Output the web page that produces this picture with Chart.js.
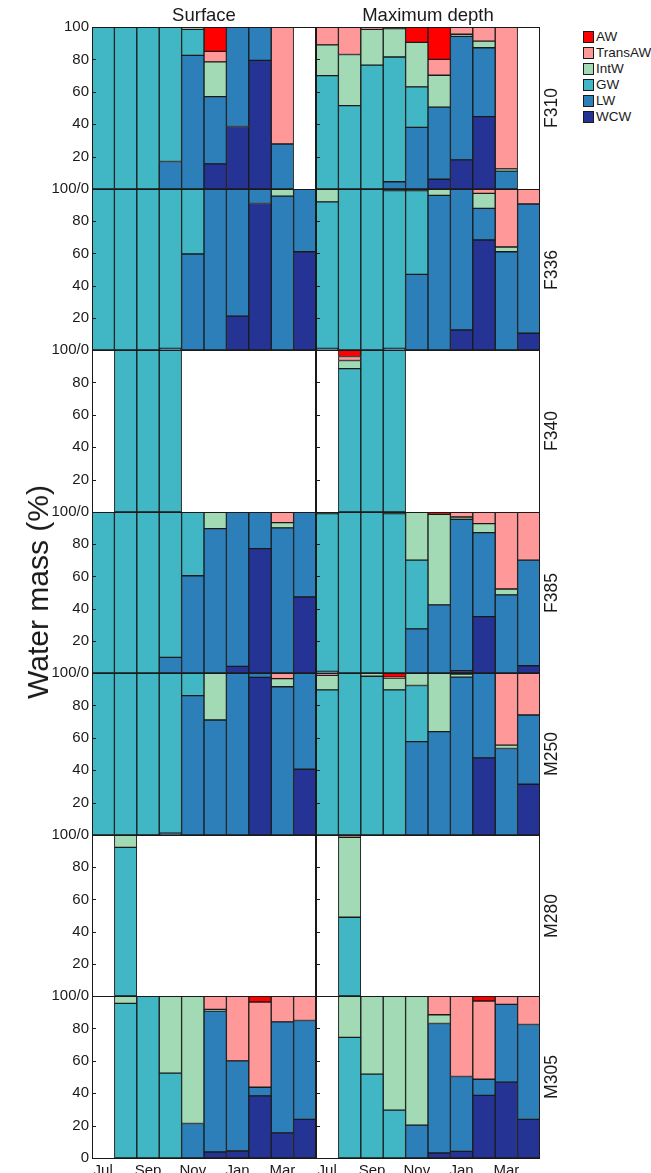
<!DOCTYPE html>
<html>
<head>
<meta charset="utf-8">
<script src="https://cdn.jsdelivr.net/npm/chart.js@4.4.0/dist/chart.umd.min.js"></script>
<style>
    body { margin: 0; background: #fff; font-family: "Liberation Sans", Arial, sans-serif; color: #1a1a1a; }
    #page { position: relative; width: 651px; height: 1173px; overflow: hidden; }
    #page canvas { position: absolute; }
    .title { position: absolute; top: 4px; font-size: 18.5px; transform: translateX(-50%); white-space: nowrap; }
    .rowlab { position: absolute; font-size: 17.5px; transform: translate(-50%, -50%) rotate(-90deg); white-space: nowrap; }
    .ytitle { position: absolute; left: 38px; top: 592px; font-size: 30px; transform: translate(-50%, -50%) rotate(-90deg); white-space: nowrap; }
    .leg { position: absolute; left: 583px; font-size: 13.5px; line-height: 11px; white-space: nowrap; }
    .leg i { display: inline-block; width: 9px; height: 10px; border: 1px solid #1a1a1a; vertical-align: top; margin-right: 2px; }
</style>
</head>
<body>
<div id="page"></div>
<script>
/* =========================
   DATA
========================= */

const months = ['Jul', 'Aug', 'Sep', 'Oct', 'Nov', 'Dec', 'Jan', 'Feb', 'Mar', 'Apr'];
const masses = ['WCW', 'LW', 'GW', 'IntW', 'TransAW', 'AW'];
const massColors = ['#253494', '#2c7fb8', '#41b6c4', '#a1dab4', '#ff9999', '#ff0000'];
const stations = ['F310', 'F336', 'F340', 'F385', 'M250', 'M280', 'M305'];
const columns = ['Surface', 'Maximum depth'];
const yTicks = [0, 20, 40, 60, 80, 100];

// rows in order WCW, LW, GW, IntW, TransAW, AW ; one value per month (0 = absent)
const F310_surface = [
    [0, 0, 0, 0, 0, 15.5, 38.6, 79.4, 0, 0],
    [0, 0, 0, 17, 82.5, 41.5, 61.4, 20.6, 27.8, 0],
    [100, 100, 100, 83, 16, 0, 0, 0, 0, 0],
    [0, 0, 0, 0, 1.5, 21.5, 0, 0, 0, 0],
    [0, 0, 0, 0, 0, 6.5, 0, 0, 72.2, 0],
    [0, 0, 0, 0, 0, 15, 0, 0, 0, 0]
];
const F310_max = [
    [0, 0, 0, 0, 0, 6, 18, 44.7, 0, 0],
    [0, 0, 0, 4.5, 38, 44.5, 76.3, 42.5, 11, 0],
    [70, 51.5, 76.5, 77, 25, 0, 0, 0, 0, 0],
    [19, 31.5, 22, 17.5, 27.5, 19.7, 1.2, 4.1, 1.4, 0],
    [11, 17, 1.5, 1, 0, 9.8, 4.5, 8.7, 87.6, 0],
    [0, 0, 0, 0, 9.5, 20, 0, 0, 0, 0]
];
const F336_surface = [
    [0, 0, 0, 0, 0, 0, 21, 91, 0, 61],
    [0, 0, 0, 1, 59.6, 100, 79, 9, 95.6, 39],
    [100, 100, 100, 99, 40.4, 0, 0, 0, 0, 0],
    [0, 0, 0, 0, 0, 0, 0, 0, 4.4, 0],
    [0, 0, 0, 0, 0, 0, 0, 0, 0, 0],
    [0, 0, 0, 0, 0, 0, 0, 0, 0, 0]
];
const F336_max = [
    [0, 0, 0, 0, 0, 0, 12.4, 68.3, 0, 10.4],
    [1, 0, 0, 1, 47, 96, 87.6, 19.7, 61, 80.3],
    [91, 100, 100, 98, 52, 0, 0, 0, 0, 0],
    [8, 0, 0, 1, 1, 4, 0, 9.3, 3, 0],
    [0, 0, 0, 0, 0, 0, 0, 2.7, 36, 9.3],
    [0, 0, 0, 0, 0, 0, 0, 0, 0, 0]
];
const F340_surface = [
    [0, 0, 0, 0, 0, 0, 0, 0, 0, 0],
    [0, 0, 0, 0, 0, 0, 0, 0, 0, 0],
    [0, 100, 100, 100, 0, 0, 0, 0, 0, 0],
    [0, 0, 0, 0, 0, 0, 0, 0, 0, 0],
    [0, 0, 0, 0, 0, 0, 0, 0, 0, 0],
    [0, 0, 0, 0, 0, 0, 0, 0, 0, 0]
];
const F340_max = [
    [0, 0, 0, 0, 0, 0, 0, 0, 0, 0],
    [0, 0, 0, 0, 0, 0, 0, 0, 0, 0],
    [0, 88.5, 100, 100, 0, 0, 0, 0, 0, 0],
    [0, 5, 0, 0, 0, 0, 0, 0, 0, 0],
    [0, 2.5, 0, 0, 0, 0, 0, 0, 0, 0],
    [0, 4, 0, 0, 0, 0, 0, 0, 0, 0]
];
const F385_surface = [
    [0, 0, 0, 0, 0, 0, 4.1, 77.3, 0, 47.2],
    [0, 0, 0, 9.7, 60.4, 89.7, 95.9, 22.7, 90.1, 52.8],
    [100, 100, 100, 90.3, 39.6, 0, 0, 0, 0, 0],
    [0, 0, 0, 0, 0, 10.3, 0, 0, 3.3, 0],
    [0, 0, 0, 0, 0, 0, 0, 0, 6.6, 0],
    [0, 0, 0, 0, 0, 0, 0, 0, 0, 0]
];
const F385_max = [
    [0, 0, 0, 0, 0, 0, 1.4, 35, 0, 4.5],
    [1, 0, 0, 0, 27.4, 42.3, 94.1, 52.2, 48.5, 65.6],
    [98, 100, 100, 99, 42.7, 0, 0, 0, 0, 0],
    [1, 0, 0, 1, 29.9, 56.2, 1.4, 5.6, 3.7, 0],
    [0, 0, 0, 0, 0, 0, 3.1, 7.2, 47.8, 29.9],
    [0, 0, 0, 0, 0, 1.5, 0, 0, 0, 0]
];
const M250_surface = [
    [0, 0, 0, 0, 0, 0, 0, 97.3, 0, 40.6],
    [0, 0, 0, 1.2, 86, 71, 100, 2.7, 91.5, 59.4],
    [100, 100, 100, 98.8, 14, 0, 0, 0, 0, 0],
    [0, 0, 0, 0, 0, 29, 0, 0, 5, 0],
    [0, 0, 0, 0, 0, 0, 0, 0, 3.5, 0],
    [0, 0, 0, 0, 0, 0, 0, 0, 0, 0]
];
const M250_max = [
    [0, 0, 0, 0, 0, 0, 0, 47.6, 0, 31.3],
    [0, 0, 0, 0, 57.6, 63.8, 97.5, 52.4, 53.4, 42.8],
    [89.6, 100, 98, 89.6, 34.7, 0, 0, 0, 0, 0],
    [8.9, 0, 2, 7.3, 7.7, 36.2, 1.9, 0, 2.1, 0],
    [1.5, 0, 0, 0.6, 0, 0, 0.6, 0, 44.5, 25.9],
    [0, 0, 0, 2.5, 0, 0, 0, 0, 0, 0]
];
const M280_surface = [
    [0, 0, 0, 0, 0, 0, 0, 0, 0, 0],
    [0, 0, 0, 0, 0, 0, 0, 0, 0, 0],
    [0, 92.3, 0, 0, 0, 0, 0, 0, 0, 0],
    [0, 7.7, 0, 0, 0, 0, 0, 0, 0, 0],
    [0, 0, 0, 0, 0, 0, 0, 0, 0, 0],
    [0, 0, 0, 0, 0, 0, 0, 0, 0, 0]
];
const M280_max = [
    [0, 0, 0, 0, 0, 0, 0, 0, 0, 0],
    [0, 0, 0, 0, 0, 0, 0, 0, 0, 0],
    [0, 48.9, 0, 0, 0, 0, 0, 0, 0, 0],
    [0, 49.7, 0, 0, 0, 0, 0, 0, 0, 0],
    [0, 1.4, 0, 0, 0, 0, 0, 0, 0, 0],
    [0, 0, 0, 0, 0, 0, 0, 0, 0, 0]
];
const M305_surface = [
    [0, 0, 0, 0, 0, 3.7, 4.3, 38.3, 15.5, 23.8],
    [0, 0, 0, 0, 21.3, 87, 55.7, 5.4, 68.5, 61.1],
    [0, 95.4, 100, 52.4, 0, 0, 0, 0, 0, 0],
    [0, 4.6, 0, 47.6, 78.7, 1, 0, 0, 0, 0],
    [0, 0, 0, 0, 0, 8.3, 40, 52.6, 16, 15.1],
    [0, 0, 0, 0, 0, 0, 0, 3.7, 0, 0]
];
const M305_max = [
    [0, 0, 0, 0, 0, 3.1, 4.1, 38.7, 46.8, 23.8],
    [0, 0, 0, 0, 20.3, 79.9, 46.2, 9.9, 48, 58.6],
    [0, 74.5, 51.8, 29.6, 0, 0, 0, 0, 0, 0],
    [0, 25.5, 48.2, 70.4, 79.7, 5.4, 0, 0, 0, 0],
    [0, 0, 0, 0, 0, 11.6, 49.7, 48.3, 5.2, 17.6],
    [0, 0, 0, 0, 0, 0, 0, 3.1, 0, 0]
];

const panelData = [
    [F310_surface, F310_max],
    [F336_surface, F336_max],
    [F340_surface, F340_max],
    [F385_surface, F385_max],
    [M250_surface, M250_max],
    [M280_surface, M280_max],
    [M305_surface, M305_max]
];

/* =========================
   LAYOUT
========================= */

const COL_X = [92, 316];
const PANEL_W = 224;
const TOP = 27;
const BOTTOM = 1158;
const INK = '#1a1a1a';

Chart.defaults.font.family = '"Liberation Sans", Arial, sans-serif';
Chart.defaults.color = INK;

const page = document.getElementById('page');

function rowTop(i) {
    return Math.round(TOP + i * (BOTTOM - TOP) / stations.length);
}

// frame round the plot area and small inward ticks on its left edge
const framePlugin = {
    id: 'frame',
    afterDraw(chart) {
        const { ctx, chartArea: a, scales } = chart;
        ctx.save();
        ctx.strokeStyle = INK;
        ctx.lineWidth = 1;
        ctx.strokeRect(a.left + 0.5, a.top + 0.5, a.right - a.left - 1, a.bottom - a.top);
        ctx.beginPath();
        yTicks.slice(1, -1).forEach(v => {
            const y = Math.round(scales.y.getPixelForValue(v)) + 0.5;
            ctx.moveTo(a.left, y);
            ctx.lineTo(a.left + 4, y);
        });
        ctx.stroke();
        ctx.restore();
    }
};

function createPanel(row, col) {

    const last = row === stations.length - 1;
    const showY = col === 0;
    const top = rowTop(row);
    const height = rowTop(row + 1) - top;

    const padL = showY ? 50 : 4;
    const padT = 12;
    const padR = 4;
    const padB = last ? 30 : 12;

    const canvas = document.createElement('canvas');
    canvas.width = PANEL_W + padL + padR;
    canvas.height = height + padT + padB;
    canvas.style.left = (COL_X[col] - padL) + 'px';
    canvas.style.top = (top - padT) + 'px';
    page.appendChild(canvas);

    const values = panelData[row][col];

    return new Chart(canvas, {

        type: 'bar',

        data: {
            labels: months,
            datasets: masses.map((m, k) => ({
                label: m,
                data: values[k].map(v => (v > 0 ? v : null)),
                backgroundColor: massColors[k],
                borderColor: INK,
                borderWidth: 1,
                borderSkipped: false,
                barPercentage: 1,
                categoryPercentage: 1
            }))
        },

        options: {

            responsive: false,
            animation: false,
            devicePixelRatio: 1,

            layout: {
                padding: {
                    left: showY ? 0 : padL,
                    right: padR,
                    top: padT,
                    bottom: last ? 0 : padB
                }
            },

            plugins: {
                legend: { display: false },
                tooltip: { enabled: false }
            },

            scales: {

                x: {
                    stacked: true,
                    display: last,
                    grid: { display: false, drawTicks: false },
                    border: { display: false },
                    ticks: {
                        autoSkip: false,
                        maxRotation: 0,
                        padding: 4,
                        font: { size: 15 },
                        callback: (v, i) => (i % 2 === 0 ? months[i] : '')
                    },
                    afterFit: s => { s.height = last ? padB : 0; }
                },

                y: {
                    stacked: true,
                    min: 0,
                    max: 100,
                    display: showY,
                    grid: { display: false, drawTicks: false },
                    border: { display: false },
                    ticks: {
                        stepSize: 20,
                        padding: 3,
                        font: { size: 15 },
                        callback: v => {
                            if (v === 100) return row === 0 ? '100' : '';
                            if (v === 0) return last ? '0' : '100/0';
                            return String(v);
                        }
                    },
                    afterFit: s => { s.width = showY ? padL : 0; }
                }
            }
        },

        plugins: [framePlugin]
    });
}

stations.forEach((st, r) => {
    createPanel(r, 0);
    createPanel(r, 1);
});

/* =========================
   TEXT: titles, strips, legend
========================= */

columns.forEach((c, i) => {
    const d = document.createElement('div');
    d.className = 'title';
    d.textContent = c;
    d.style.left = (COL_X[i] + PANEL_W / 2) + 'px';
    page.appendChild(d);
});

stations.forEach((st, r) => {
    const d = document.createElement('div');
    d.className = 'rowlab';
    d.textContent = st;
    d.style.left = '551px';
    d.style.top = ((rowTop(r) + rowTop(r + 1)) / 2) + 'px';
    page.appendChild(d);
});

const yt = document.createElement('div');
yt.className = 'ytitle';
yt.textContent = 'Water mass (%)';
page.appendChild(yt);

masses.slice().reverse().forEach((m, i) => {
    const d = document.createElement('div');
    d.className = 'leg';
    d.style.top = (31 + i * 16) + 'px';
    d.innerHTML = '<i style="background:' + massColors[masses.length - 1 - i] + '"></i>' + m;
    page.appendChild(d);
});
</script>
</body>
</html>
